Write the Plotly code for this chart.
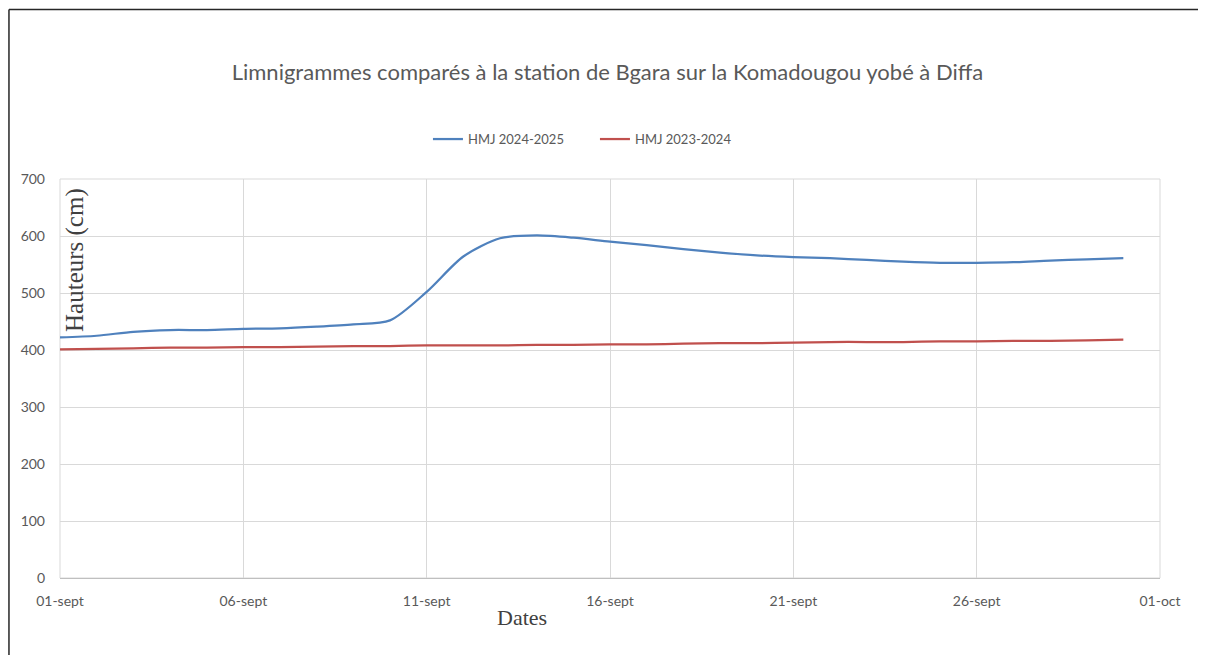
import plotly.graph_objects as go

# Hauteurs moyennes journalières (cm), septembre
dates = ['2024-09-%02d' % d for d in range(1, 31)]
hmj_2024_2025 = [422, 425, 432, 435, 435, 437, 438, 441, 445, 452,
                 502, 564, 596, 601, 597, 590, 584, 577, 571, 566,
                 563, 561, 558, 555, 553, 553, 554, 557, 559, 561]
hmj_2023_2024 = [401, 402, 403, 404, 404, 405, 405, 406, 407, 407,
                 408, 408, 408, 409, 409, 410, 410, 411, 412, 412,
                 413, 414, 414, 414, 415, 415, 416, 416, 417, 418]

tick_dates = ['2024-09-01', '2024-09-06', '2024-09-11', '2024-09-16',
              '2024-09-21', '2024-09-26', '2024-10-01']
tick_labels = ['01-sept', '06-sept', '11-sept', '16-sept',
               '21-sept', '26-sept', '01-oct']

grey = '#595959'
grid = '#D9D9D9'

fig = go.Figure()
fig.add_trace(go.Scatter(x=dates, y=hmj_2024_2025, name='HMJ 2024-2025',
                         mode='lines', line=dict(color='#4F81BD', width=2.25,
                                                 shape='spline', smoothing=0.8)))
fig.add_trace(go.Scatter(x=dates, y=hmj_2023_2024, name='HMJ 2023-2024',
                         mode='lines', line=dict(color='#C0504D', width=2.25,
                                                 shape='spline', smoothing=0.8)))

# la page html décale la figure de 8 px (marge du body) -> figure un peu plus petite
fig.update_layout(
    width=1198, height=647,
    paper_bgcolor='white', plot_bgcolor='white',
    margin=dict(l=52, r=46, t=171, b=77),
    font=dict(family='Lato', color=grey, size=14),
    title=dict(text='Limnigrammes comparés à la station de Bgara sur la Komadougou yobé à Diffa',
               x=0.5004, xanchor='center', y=0.901, yanchor='middle',
               font=dict(family='Lato', size=22, color=grey)),
    legend=dict(orientation='h', x=0.3345, xanchor='left', y=1.10, yanchor='middle',
                font=dict(size=13, color=grey), itemwidth=30,
                entrywidth=122, entrywidthmode='pixels'),
    showlegend=True,
)
fig.update_xaxes(
    range=['2024-09-01', '2024-10-01'],
    tickmode='array', tickvals=tick_dates, ticktext=tick_labels,
    showgrid=True, gridcolor=grid, gridwidth=1,
    showline=True, linecolor='#BFBFBF', linewidth=1, mirror=False,
    ticks='', ticklabelstandoff=10, zeroline=False,
)
fig.update_yaxes(
    range=[0, 700], dtick=100,
    showgrid=True, gridcolor=grid, gridwidth=1,
    showline=False, zeroline=False, ticks='', ticklabelstandoff=14,
)
# bordure du cadre du graphique
fig.add_shape(type='rect', xref='paper', yref='paper', x0=0, x1=1, y0=0, y1=1,
              line=dict(color=grid, width=1), layer='below')
# cadre extérieur (haut et gauche seulement visibles)
fig.add_shape(type='line', xref='paper', yref='paper', x0=-0.0464, x1=1.2, y0=1.425, y1=1.425,
              line=dict(color='#262626', width=1.5))
fig.add_shape(type='line', xref='paper', yref='paper', x0=-0.0464, x1=-0.0464, y0=-0.3, y1=1.425,
              line=dict(color='#262626', width=1.5))

fig.add_annotation(text='Hauteurs (cm)', textangle=-90, xref='paper', yref='paper',
                   x=0.0136, y=0.797, xanchor='center', yanchor='middle', showarrow=False,
                   font=dict(family='Liberation Serif', size=25, color='#404040'))
fig.add_annotation(text='Dates', xref='paper', yref='paper',
                   x=0.42, y=-0.1, xanchor='center', yanchor='middle', showarrow=False,
                   font=dict(family='Liberation Serif', size=22, color='#404040'))

fig.write_html("out.html")
